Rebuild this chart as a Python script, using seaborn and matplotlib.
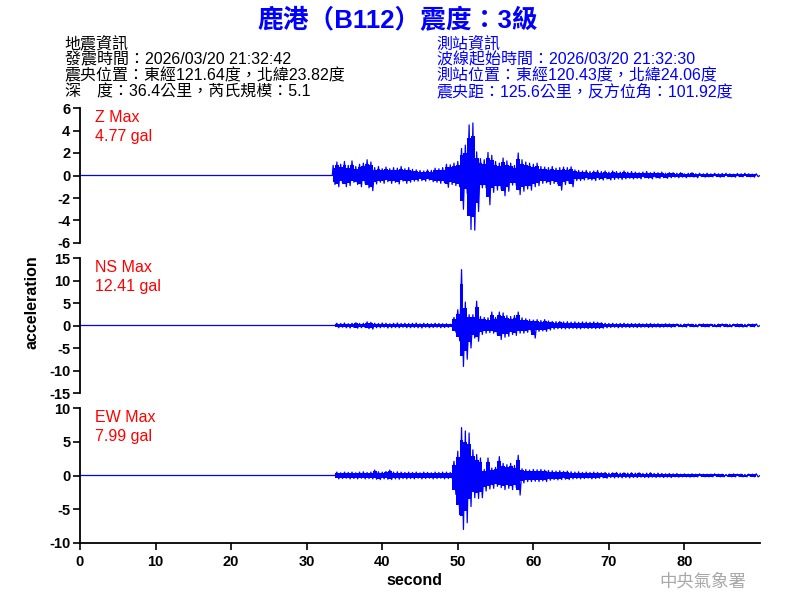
import numpy as np
import seaborn as sns
import matplotlib
matplotlib.use("Agg")
import matplotlib.pyplot as plt

# envelope of each trace, every 0.5 s from 33.5 s on
t_start = 33.5
dt = 0.5

z_up = [0.9, 1.2, 1.0, 1.25, 0.9, 1.3, 0.8, 1.0, 1.1, 1.4,
        1.2, 0.7, 0.8, 0.6, 0.75, 0.6, 0.7, 0.65, 0.8, 0.6,
        0.7, 0.55, 0.5, 0.45, 0.4, 0.5, 0.45, 0.65, 0.6, 0.7,
        1.0, 0.95, 1.1, 1.25, 2.4, 2.7, 4.5, 4.67, 2.1, 1.5,
        1.4, 2.05, 1.8, 1.25, 1.1, 1.55, 1.3, 1.1, 0.9, 2.0,
        1.4, 1.2, 1.1, 1.0, 1.1, 0.8, 0.75, 0.7, 0.8, 0.65,
        0.7, 0.75, 0.7, 0.77, 0.5, 0.45, 0.4, 0.45, 0.35, 0.4,
        0.45, 0.35, 0.4, 0.3, 0.4, 0.35, 0.3, 0.4, 0.3, 0.35,
        0.3, 0.25, 0.3, 0.35, 0.25, 0.3, 0.25, 0.3, 0.2, 0.25,
        0.25, 0.2, 0.25, 0.15, 0.2, 0.25, 0.15, 0.2, 0.15, 0.2,
        0.15, 0.2, 0.15, 0.18, 0.2, 0.15, 0.12, 0.18, 0.15, 0.2, 0.15, 0.12, 0.15]
z_dn = [-0.8, -1.0, -0.7, -1.0, -0.9, -0.6, -0.8, -1.0, -0.7, -1.1,
        -1.35, -0.75, -0.6, -0.7, -0.55, -0.7, -0.6, -0.75, -0.5, -0.7,
        -0.6, -0.5, -0.5, -0.45, -0.5, -0.4, -0.55, -0.6, -0.7, -0.65,
        -1.05, -0.8, -0.9, -1.0, -3.0, -1.6, -4.8, -4.86, -3.2, -1.1,
        -1.1, -2.6, -1.5, -1.3, -1.2, -1.8, -1.4, -0.85, -0.9, -1.7,
        -1.4, -1.2, -1.3, -1.0, -0.9, -0.7, -0.65, -0.8, -0.7, -0.75,
        -1.3, -0.8, -0.7, -1.0, -0.45, -0.45, -0.4, -0.35, -0.4, -0.45,
        -0.35, -0.4, -0.3, -0.4, -0.35, -0.3, -0.35, -0.3, -0.25, -0.3,
        -0.25, -0.3, -0.2, -0.25, -0.3, -0.2, -0.25, -0.2, -0.25, -0.2,
        -0.15, -0.2, -0.15, -0.2, -0.12, -0.15, -0.2, -0.1, -0.15, -0.12,
        -0.12, -0.1, -0.15, -0.12, -0.1, -0.12, -0.15, -0.1, -0.12, -0.1, -0.12, -0.15, -0.1]

ns_up = [0.0, 0.5, 0.45, 0.55, 0.4, 0.5, 0.6, 0.45, 0.5, 0.8,
         0.7, 0.5, 0.45, 0.55, 0.5, 0.4, 0.5, 0.55, 0.45, 0.5,
         0.45, 0.5, 0.55, 0.4, 0.5, 0.45, 0.4, 0.5, 0.45, 0.4,
         0.4, 0.3, 1.8, 3.5, 12.41, 5.2, 2.4, 2.4, 5.4, 2.0,
         1.8, 1.7, 3.0, 1.8, 3.0, 2.8, 2.2, 2.0, 2.2, 3.0,
         1.7, 1.5, 1.3, 1.2, 1.3, 1.1, 1.3, 1.0, 0.9, 0.85,
         0.9, 0.8, 0.85, 0.75, 0.8, 0.7, 0.8, 0.75, 0.7, 0.8,
         0.7, 0.6, 0.5, 0.45, 0.5, 0.4, 0.45, 0.5, 0.4, 0.45,
         0.4, 0.45, 0.35, 0.4, 0.45, 0.35, 0.4, 0.3, 0.4, 0.35,
         0.3, 0.35, 0.25, 0.3, 0.35, 0.3, 0.25, 0.3, 0.35, 0.3,
         0.3, 0.25, 0.3, 0.35, 0.3, 0.25, 0.3, 0.35, 0.3, 0.25, 0.3, 0.3, 0.35]
ns_dn = [0.0, -0.5, -0.4, -0.5, -0.55, -0.4, -0.6, -0.5, -0.45, -0.7,
         -0.8, -0.5, -0.5, -0.4, -0.55, -0.5, -0.45, -0.5, -0.4, -0.5,
         -0.5, -0.45, -0.5, -0.55, -0.4, -0.5, -0.45, -0.4, -0.5, -0.45,
         -0.4, -0.3, -1.5, -3.4, -9.1, -7.5, -5.0, -2.8, -3.5, -2.0,
         -1.7, -1.6, -1.7, -2.0, -3.1, -2.6, -2.4, -2.0, -2.2, -1.7,
         -1.7, -1.5, -1.4, -2.8, -1.3, -1.2, -1.3, -1.0, -0.8, -0.7,
         -0.7, -0.75, -0.7, -0.65, -0.7, -0.75, -0.6, -0.7, -0.65, -0.7,
         -0.65, -0.6, -0.5, -0.45, -0.4, -0.5, -0.45, -0.4, -0.45, -0.4,
         -0.45, -0.4, -0.35, -0.45, -0.4, -0.35, -0.4, -0.35, -0.3, -0.4,
         -0.3, -0.25, -0.3, -0.35, -0.25, -0.3, -0.3, -0.25, -0.3, -0.3,
         -0.25, -0.3, -0.3, -0.25, -0.3, -0.3, -0.25, -0.3, -0.35, -0.3, -0.25, -0.3, -0.25]

ew_up = [0.0, 0.5, 0.4, 0.5, 0.45, 0.5, 0.4, 0.5, 0.55, 0.45,
         0.5, 0.8, 0.55, 0.5, 0.6, 0.8, 0.5, 0.55, 0.5, 0.45,
         0.5, 0.45, 0.5, 0.4, 0.5, 0.45, 0.4, 0.5, 0.45, 0.5,
         0.5, 0.45, 2.1, 3.6, 7.1, 6.6, 6.3, 3.8, 3.1, 2.6,
         0.9, 2.6, 1.1, 1.2, 2.8, 1.8, 1.6, 1.8, 1.5, 3.0,
         1.0, 0.9, 0.8, 0.9, 0.85, 0.9, 0.8, 0.75, 0.7, 0.65,
         0.7, 0.6, 0.65, 0.55, 0.5, 0.55, 0.45, 0.5, 0.45, 0.5,
         0.45, 0.4, 0.45, 0.35, 0.4, 0.45, 0.35, 0.4, 0.35, 0.4,
         0.35, 0.4, 0.3, 0.35, 0.4, 0.3, 0.35, 0.3, 0.25, 0.3,
         0.25, 0.3, 0.2, 0.25, 0.2, 0.25, 0.2, 0.25, 0.2, 0.2,
         0.2, 0.25, 0.2, 0.2, 0.15, 0.2, 0.25, 0.2, 0.2, 0.15, 0.2, 0.2, 0.25]
ew_dn = [0.0, -0.5, -0.45, -0.4, -0.5, -0.45, -0.5, -0.4, -0.5, -0.45,
         -0.5, -0.55, -0.6, -0.5, -0.55, -0.6, -0.5, -0.55, -0.45, -0.5,
         -0.45, -0.5, -0.4, -0.5, -0.45, -0.4, -0.5, -0.45, -0.4, -0.5,
         -0.45, -0.4, -2.8, -5.8, -7.99, -7.0, -4.6, -3.3, -3.4, -3.3,
         -2.3, -2.0, -1.9, -1.6, -1.8, -2.1, -1.9, -2.1, -1.8, -2.9,
         -1.1, -0.9, -0.9, -0.85, -0.9, -0.8, -0.9, -0.7, -0.6, -0.65,
         -0.6, -0.55, -0.6, -0.5, -0.45, -0.5, -0.45, -0.4, -0.5, -0.45,
         -0.4, -0.35, -0.4, -0.3, -0.35, -0.3, -0.35, -0.3, -0.35, -0.3,
         -0.3, -0.25, -0.3, -0.3, -0.25, -0.3, -0.25, -0.3, -0.25, -0.3,
         -0.2, -0.25, -0.2, -0.2, -0.25, -0.2, -0.2, -0.15, -0.2, -0.2,
         -0.2, -0.15, -0.2, -0.2, -0.15, -0.2, -0.2, -0.15, -0.2, -0.2, -0.15, -0.2, -0.2]

comp_names = ["Z Max", "NS Max", "EW Max"]
max_vals = ["4.77 gal", "12.41 gal", "7.99 gal"]
y_lims = [6, 15, 10]
y_steps = [2, 5, 5]
x_ticks = [0, 10, 20, 30, 40, 50, 60, 70, 80]

title = "鹿港（B112）震度：3級"
quake_info = ["地震資訊",
              "發震時間：2026/03/20 21:32:42",
              "震央位置：東經121.64度，北緯23.82度",
              "深　度：36.4公里，芮氏規模：5.1"]
station_info = ["測站資訊",
                "波線起始時間：2026/03/20 21:32:30",
                "測站位置：東經120.43度，北緯24.06度",
                "震央距：125.6公里，反方位角：101.92度"]

sns.set_style("ticks", {"axes.edgecolor": "black", "xtick.color": "black",
                        "ytick.color": "black", "text.color": "black"})
plt.rcParams['font.family'] = ['Liberation Sans', 'Noto Sans CJK TC', 'DejaVu Sans']
plt.rcParams['axes.unicode_minus'] = False


def trace(up, dn):
    t = t_start + dt * np.arange(len(up))
    x = np.empty(2 * len(up))
    y = np.empty(2 * len(up))
    x[0::2] = t
    x[1::2] = t + dt / 2
    y[0::2] = up
    y[1::2] = dn
    x = np.concatenate([[0, t_start - 0.1], x, [x[-1] + dt / 2]])
    y = np.concatenate([[0, 0], y, [0]])
    return t, x, y


fig = plt.figure(figsize=(8, 6), dpi=100)
bottoms = [0.595, 0.345, 0.095]
series = [(z_up, z_dn), (ns_up, ns_dn), (ew_up, ew_dn)]

for i, (up, dn) in enumerate(series):
    ax = fig.add_axes([0.1, bottoms[i], 0.85, 0.225])
    t, x, y = trace(up, dn)
    # blocky band for the envelope, thin zigzag on top for the spikes
    ax.fill_between(t, np.array(dn) * 0.75, np.array(up) * 0.75, step='mid',
                    color='blue', lw=0)
    sns.lineplot(x=x, y=y, ax=ax, color='blue', lw=0.9, estimator=None, sort=False)
    lim = y_lims[i]
    ax.set_ylim(-lim, lim)
    ax.set_xlim(0, 90)
    ax.set_yticks(np.arange(-lim, lim + 1, y_steps[i]))
    ax.tick_params(axis='y', length=5, width=1.2, labelsize=10.5, pad=2,
                   colors='black')
    for lab in ax.get_yticklabels():
        lab.set_fontweight('bold')
    for s in ['top', 'right']:
        ax.spines[s].set_visible(False)
    ax.spines['left'].set_linewidth(1.3)
    ax.spines['left'].set_color('black')
    if i < 2:
        ax.spines['bottom'].set_visible(False)
        ax.set_xticks([])
    else:
        ax.spines['bottom'].set_linewidth(1.3)
        ax.spines['bottom'].set_color('black')
        ax.set_xticks(x_ticks)
        ax.tick_params(axis='x', length=5, width=1.2, labelsize=10.5, colors='black')
        for lab in ax.get_xticklabels():
            lab.set_fontweight('bold')
    ax.set_xlabel('')
    ax.set_ylabel('')
    ax.text(0.022, 0.93, comp_names[i], transform=ax.transAxes, color='red',
            fontsize=11.5, va='center')
    ax.text(0.022, 0.79, max_vals[i], transform=ax.transAxes, color='red',
            fontsize=11.5, va='center')

fig.text(0.497, 0.966, title, color='blue', fontsize=18.5, fontweight='bold',
         ha='center', va='center')
ys = [0.927, 0.901, 0.874, 0.847]
for k in range(4):
    fig.text(0.081, ys[k], quake_info[k], color='black', fontsize=11.5,
             va='center')
    fig.text(0.546, ys[k], station_info[k], color='blue', fontsize=11.5,
             va='center')

fig.text(0.04, 0.497, "acceleration", rotation=90, fontsize=11.5, fontweight='bold',
         ha='center', va='center', color='black')
fig.text(0.518, 0.033, "second", fontsize=11.5, fontweight='bold', ha='center',
         va='center', color='black')
fig.text(0.878, 0.032, "中央氣象署", color='#a8a8a8', fontsize=12.5, ha='center',
         va='center')

fig.savefig("out.png", dpi=100)
